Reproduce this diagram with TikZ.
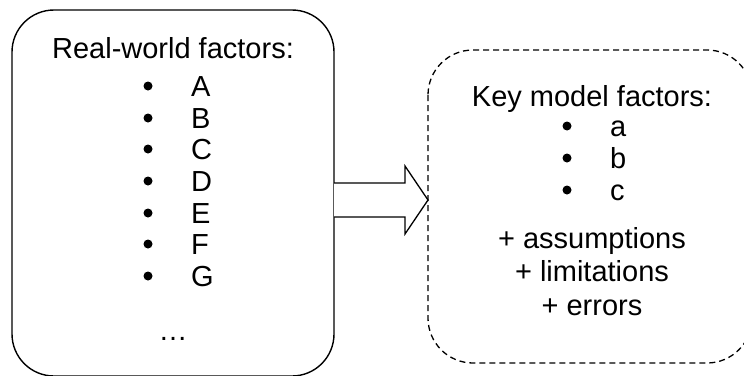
\documentclass[tikz,border=0pt]{standalone}
\usepackage{fontspec}
\setmainfont{Liberation Sans}
\begin{document}
\begin{tikzpicture}[x=1pt,y=-1pt,
  txt/.style={font=\fontsize{29}{33}\selectfont, inner sep=0pt, anchor=base},
  item/.style={font=\fontsize{29}{33}\selectfont, inner sep=0pt, anchor=base west},
  dot/.style={circle, fill=black, inner sep=0pt, minimum size=9pt},
  frame/.style={draw=black, line width=1.4pt, rounded corners=42pt},
  dframe/.style={draw=black, line width=1.3pt, rounded corners=45pt, dash pattern=on 6pt off 4pt},
  bigarrow/.style={draw=black, line width=1.3pt, fill=white}]
\useasboundingbox (0,0) rectangle (744,375);
\begin{scope}
\clip (0,0) rectangle (744,375);
% left box
\draw[frame] (12,10) rectangle (334,376);
\node[txt] (ltitle) at (173,58) {Real-world factors:};
\foreach \l/\y [count=\i] in {A/96,B/128,C/159,D/191,E/223,F/254,G/286}{
  \node[item] (l\i) at (191,\y) {\l};
  \node[dot] (lb\i) at (148,\y-10) {};
}
\node[txt] (ldots) at (173,340) {…};
% right box
\draw[dframe] (428,50) rectangle (752,363);
\node[txt] (rtitle) at (592,106) {Key model factors:};
\foreach \l/\y [count=\i] in {a/136,b/168,c/200}{
  \node[item] (r\i) at (610,\y) {\l};
  \node[dot] (rb\i) at (567,\y-10) {};
}
\node[txt] (p1) at (592,248) {+ assumptions};
\node[txt] (p2) at (592,281) {+ limitations};
\node[txt] (p3) at (592,315) {+ errors};
% arrow
\coordinate (as) at (334,200);
\coordinate (at) at (428,200);
\draw[bigarrow] (334,183) -- (405,183) -- (405,166) -- (at) -- (405,234) -- (405,217) -- (334,217);
\end{scope}
\end{tikzpicture}
\end{document}
